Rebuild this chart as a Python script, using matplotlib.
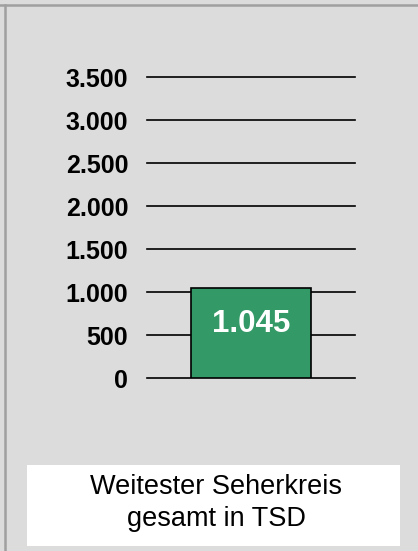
import matplotlib.pyplot as plt
from matplotlib.lines import Line2D
from matplotlib.patches import Rectangle

plt.rcParams["font.family"] = ["Liberation Sans", "DejaVu Sans"]

categories = ["Weitester Seherkreis gesamt in TSD"]
values = [1045]
value_labels = ["1.045"]
ticks = [0, 500, 1000, 1500, 2000, 2500, 3000, 3500]
tick_labels = ["0", "500", "1.000", "1.500", "2.000", "2.500", "3.000", "3.500"]
caption = "Weitester Seherkreis\ngesamt in TSD"

W, H = 418, 551
fig = plt.figure(figsize=(W / 100, H / 100), dpi=100, facecolor="#dcdcdc")

# frame lines at top and left, like the original export
fig.add_artist(Line2D([0, 1], [1 - 4.5 / H, 1 - 4.5 / H], color="#a0a0a0", lw=1.8))
fig.add_artist(Line2D([4.5 / W, 4.5 / W], [0, 1 - 4.5 / H], color="#a0a0a0", lw=1.8))

ax = fig.add_axes([147 / W, 1 - 378.3 / H, 208 / W, (378.3 - 77) / H])
ax.set_facecolor("none")
ax.set_xlim(-0.5, 0.5)
ax.set_ylim(0, 3500)

for t in ticks:
    ax.axhline(t, color="black", lw=1.2, zorder=1, clip_on=False)

bars = ax.bar([0], values, width=120 / 208, color="#339966",
              edgecolor="black", linewidth=1.2, zorder=2)

for rect, lab in zip(bars, value_labels):
    ax.annotate(lab, (rect.get_x() + rect.get_width() / 2, rect.get_height()),
                xytext=(0, -36), textcoords="offset pixels",
                ha="center", va="center", color="white",
                fontsize=22.5, fontweight="bold", zorder=3)

ax.set_xticks([])
ax.set_yticks(ticks)
ax.set_yticklabels(tick_labels, fontsize=18, fontweight="bold")
ax.tick_params(axis="y", length=0, pad=13.5)
for s in ax.spines.values():
    s.set_visible(False)

# caption box at the bottom
fig.add_artist(Rectangle((27 / W, 1 - 546 / H), (400 - 27) / W, (546 - 465) / H,
                         transform=fig.transFigure, facecolor="white",
                         edgecolor="none"))
fig.text(216 / W, 1 - 503 / H, caption, ha="center", va="center",
         fontsize=19.5, linespacing=1.35)

fig.savefig("out.png", dpi=100, facecolor=fig.get_facecolor())
